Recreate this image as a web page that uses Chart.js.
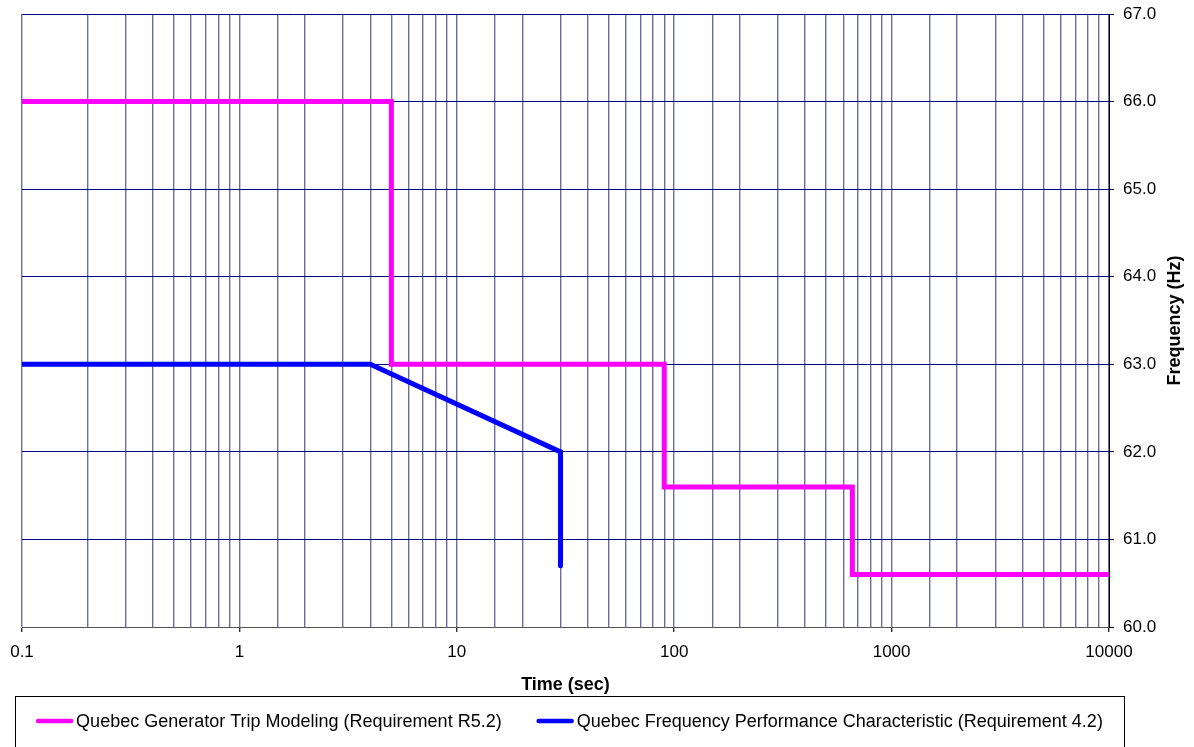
<!DOCTYPE html>
<html>
<head>
<meta charset="utf-8">
<title>Quebec frequency characteristics</title>
<script src="https://cdn.jsdelivr.net/npm/chart.js@4.4.1/dist/chart.umd.min.js"></script>
<style>
  html, body { margin: 0; padding: 0; background: #fff; }
  canvas { display: block; }
</style>
</head>
<body>
<canvas id="freqChart" width="1194" height="747"></canvas>
<script>
// Quebec Generator Trip Modeling (Requirement R5.2)
const genTimes = [0.1, 5, 5, 90, 90, 660, 660, 10000];
const genFreq = [66.0, 66.0, 63.0, 63.0, 61.6, 61.6, 60.6, 60.6];

// Quebec Frequency Performance Characteristic (Requirement 4.2)
const perfTimes = [0.1, 4, 30, 30];
const perfFreq = [63.0, 63.0, 62.0, 60.7];

const seriesNames = [
  "Quebec Generator Trip Modeling (Requirement R5.2)",
  "Quebec Frequency Performance Characteristic (Requirement 4.2)",
];
const seriesColors = ["#ff00ff", "#0000ff"];

const timeLabels = [0.1, 1, 10, 100, 1000, 10000];
const freqMin = 60;
const freqMax = 67;

const FONT = "'Liberation Sans', Arial, sans-serif";

function toPoints(xs, ys) {
  return xs.map((x, i) => ({ x: x, y: ys[i] }));
}

function isDecade(v) {
  return timeLabels.some((t) => Math.abs(t - v) < t * 1e-6);
}

// y title reads bottom-to-top and the legend sits in a framed box
const extrasPlugin = {
  id: "extras",
  afterDraw(chart) {
    const ctx = chart.ctx;
    const area = chart.chartArea;
    ctx.save();

    // y axis title
    ctx.font = "bold 18px " + FONT;
    ctx.fillStyle = "#000";
    ctx.textAlign = "center";
    ctx.textBaseline = "middle";
    ctx.translate(1175, (area.top + area.bottom) / 2);
    ctx.rotate(-Math.PI / 2);
    ctx.fillText("Frequency (Hz)", 0, 0);
    ctx.setTransform(1, 0, 0, 1, 0, 0);

    // legend box
    const box = { left: 15, top: 696, right: 1124, bottom: 752 };
    ctx.strokeStyle = "#000";
    ctx.lineWidth = 1;
    ctx.strokeRect(box.left + 0.5, box.top + 0.5, box.right - box.left, box.bottom - box.top);

    ctx.font = "18px " + FONT;
    ctx.textAlign = "left";
    const lineLen = 37;
    const textGap = 3;
    const itemGap = 35;
    const widths = chart.data.datasets.map((ds) => lineLen + textGap + ctx.measureText(ds.label).width);
    const total = widths.reduce((a, b) => a + b, 0) + itemGap * (widths.length - 1);
    let x = (box.left + box.right) / 2 - total / 2;
    const y = 721;
    chart.data.datasets.forEach((ds, i) => {
      ctx.strokeStyle = ds.borderColor;
      ctx.lineWidth = 4.5;
      ctx.lineCap = "round";
      ctx.beginPath();
      ctx.moveTo(x + 2, y);
      ctx.lineTo(x + lineLen - 2, y);
      ctx.stroke();
      ctx.fillStyle = "#000";
      ctx.fillText(ds.label, x + lineLen + textGap, y + 1);
      x += widths[i] + itemGap;
    });
    ctx.restore();
  },
};

const ctx = document.getElementById("freqChart").getContext("2d");

new Chart(ctx, {
  type: "line",
  data: {
    datasets: [
      {
        label: seriesNames[0],
        data: toPoints(genTimes, genFreq),
        borderColor: seriesColors[0],
        backgroundColor: seriesColors[0],
        borderWidth: 5,
        borderCapStyle: "round",
        borderJoinStyle: "miter",
        pointRadius: 0,
        tension: 0,
        fill: false,
      },
      {
        label: seriesNames[1],
        data: toPoints(perfTimes, perfFreq),
        borderColor: seriesColors[1],
        backgroundColor: seriesColors[1],
        borderWidth: 5,
        borderCapStyle: "round",
        borderJoinStyle: "miter",
        pointRadius: 0,
        tension: 0,
        fill: false,
      },
    ],
  },
  options: {
    responsive: false,
    animation: false,
    layout: { padding: { left: 22, top: 14, right: 0, bottom: 49 } },
    plugins: {
      legend: { display: false },
      tooltip: { enabled: false },
    },
    scales: {
      x: {
        type: "logarithmic",
        position: "bottom",
        min: timeLabels[0],
        max: timeLabels[timeLabels.length - 1],
        afterFit: (scale) => {
          scale.height = 71;
          scale.paddingLeft = 0;
          scale.paddingRight = 0;
        },
        ticks: {
          autoSkip: false,
          maxRotation: 0,
          padding: 10,
          color: "#000",
          font: { family: FONT, size: 17 },
          callback: (v) => (isDecade(v) ? String(+v.toPrecision(6)) : ""),
        },
        grid: {
          color: "#6c6ca4",
          lineWidth: 1.4,
          tickLength: 5,
          tickColor: (c) => (c.tick && isDecade(c.tick.value) ? "#333" : "rgba(0,0,0,0)"),
        },
        border: { display: true, color: "#555", width: 1 },
        title: {
          display: true,
          text: "Time (sec)",
          color: "#000",
          font: { family: FONT, size: 18, weight: "bold" },
          padding: { top: 0, bottom: 2 },
        },
      },
      y: {
        type: "linear",
        position: "right",
        min: freqMin,
        max: freqMax,
        afterFit: (scale) => {
          scale.width = 85;
          scale.paddingTop = 0;
          scale.paddingBottom = 0;
        },
        ticks: {
          stepSize: 1,
          padding: 9,
          color: "#000",
          font: { family: FONT, size: 17 },
          callback: (v) => Number(v).toFixed(1),
        },
        grid: {
          color: "#000080",
          lineWidth: 1,
          tickLength: 5,
          tickColor: "#000",
        },
        border: { display: true, color: "#000", width: 1 },
      },
    },
  },
  plugins: [extrasPlugin],
});
</script>
</body>
</html>
